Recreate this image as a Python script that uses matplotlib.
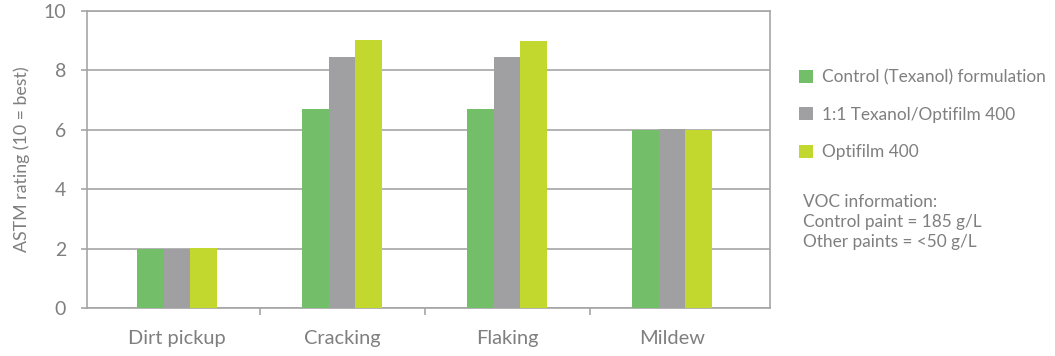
import numpy as np
import matplotlib.pyplot as plt
from matplotlib.ticker import FixedLocator

categories = ["Dirt pickup", "Cracking", "Flaking", "Mildew"]
series_names = ["Control (Texanol) formulation", "1:1 Texanol/Optifilm 400", "Optifilm 400"]
control = [2.0, 6.7, 6.7, 6.0]
blend = [2.0, 8.45, 8.45, 6.02]
optifilm = [2.02, 9.02, 9.0, 6.0]
colors = ["#73BF69", "#A0A0A2", "#C2D82F"]
voc_lines = ["VOC information:", "Control paint = 185 g/L", "Other paints = <50 g/L"]

plt.rcParams['font.family'] = ['Lato', 'DejaVu Sans']
txt = "#7F7F7F"
line = "#A5A5A5"

fig = plt.figure(figsize=(10.55, 3.56), dpi=100)
ax = fig.add_axes([0.0825, 0.135, 0.6475, 0.834])

x = np.arange(len(categories))
w = 0.162
bars = []
for i, (vals, c) in enumerate(zip([control, blend, optifilm], colors)):
    b = ax.bar(x + (i - 1) * w, vals, w, color=c, zorder=3, label=series_names[i])
    bars.append(b)

ax.set_xlim(-0.545, 3.594)
ax.set_ylim(0, 10)
ax.set_yticks(range(0, 11, 2))
ax.yaxis.grid(True, color=line, linewidth=1.2, zorder=0)
ax.set_xticks(x)
ax.set_xticklabels(categories)
ax.xaxis.set_minor_locator(FixedLocator([0.5, 1.5, 2.5]))
ax.tick_params(axis='x', which='major', length=0, pad=16, labelsize=14.4, labelcolor=txt)
ax.tick_params(axis='x', which='minor', length=5, color=line, width=1.2)
ax.tick_params(axis='y', length=4, color=line, width=1.2, labelsize=14, labelcolor=txt, pad=11)
for s in ax.spines.values():
    s.set_color(line)
    s.set_linewidth(1.2)
ax.set_ylabel("ASTM rating (10 = best)", color=txt, fontsize=12.8, labelpad=10)

fig.legend(handles=bars, labels=series_names, loc='upper left', bbox_to_anchor=(0.751, 0.825),
           frameon=False, fontsize=12.4, labelcolor=txt, handlelength=0.8, handleheight=0.8,
           handletextpad=0.5, labelspacing=1.25, borderaxespad=0)

fig.text(0.761, 0.455, "\n".join(voc_lines), color=txt, fontsize=12.4, va='top', linespacing=1.3)

fig.savefig("out.png")
